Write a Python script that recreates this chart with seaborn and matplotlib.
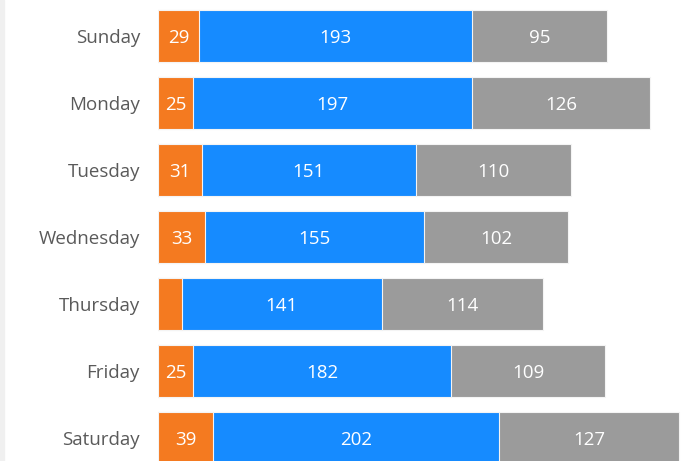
import numpy as np
import pandas as pd
import matplotlib
matplotlib.use('Agg')
import matplotlib.pyplot as plt
from matplotlib.patches import Rectangle
import seaborn as sns

days = ['Sunday', 'Monday', 'Tuesday', 'Wednesday', 'Thursday', 'Friday', 'Saturday']
orange_vals = [29, 25, 31, 33, 17, 25, 39]
blue_vals = [193, 197, 151, 155, 141, 182, 202]
gray_vals = [95, 126, 110, 102, 114, 109, 127]
show_label = [True, True, True, True, False, True, True]

c_orange = '#F47A20'
c_blue = '#168BFF'
c_gray = '#9B9B9B'

sns.set_style('white')
plt.rcParams['font.family'] = ['Open Sans', 'DejaVu Sans']

df = pd.DataFrame({'day': days, 'orange': orange_vals, 'blue': blue_vals, 'gray': gray_vals})
df['ob'] = df['orange'] + df['blue']
df['total'] = df['ob'] + df['gray']

fig = plt.figure(figsize=(6.9, 4.61), dpi=100)
# thin grey strip on the far left
fig.patches.append(Rectangle((0, 0), 4 / 690, 1, transform=fig.transFigure,
                             color='#f0f0f0', zorder=0))
ax = fig.add_axes([158 / 690, 0, 1 - 158 / 690, 1])

# draw back to front so the stacks look right
for col, c in [('total', c_gray), ('ob', c_blue), ('orange', c_orange)]:
    sns.barplot(data=df, x=col, y='day', orient='h', color=c, width=0.776,
                saturation=1, edgecolor='#f4f4f4', linewidth=0.8, ax=ax)

fs = 13.5
for i in range(len(days)):
    o, b, g = orange_vals[i], blue_vals[i], gray_vals[i]
    if show_label[i]:
        ax.text(o / 2, i, str(o), color='white', ha='center', va='center_baseline', fontsize=fs)
    ax.text(o + b / 2, i, str(b), color='white', ha='center', va='center_baseline', fontsize=fs)
    ax.text(o + b + g / 2, i, str(g), color='white', ha='center', va='center_baseline', fontsize=fs)

ax.set_xlim(0, 532 / 1.415)
ax.set_ylim(6.34, -0.54)
ax.set_xlabel('')
ax.set_ylabel('')
ax.set_xticks([])
ax.tick_params(axis='y', length=0, pad=13, labelsize=fs, labelcolor='#5a5a5a')
for s in ax.spines.values():
    s.set_visible(False)

fig.savefig('out.png', dpi=100)
